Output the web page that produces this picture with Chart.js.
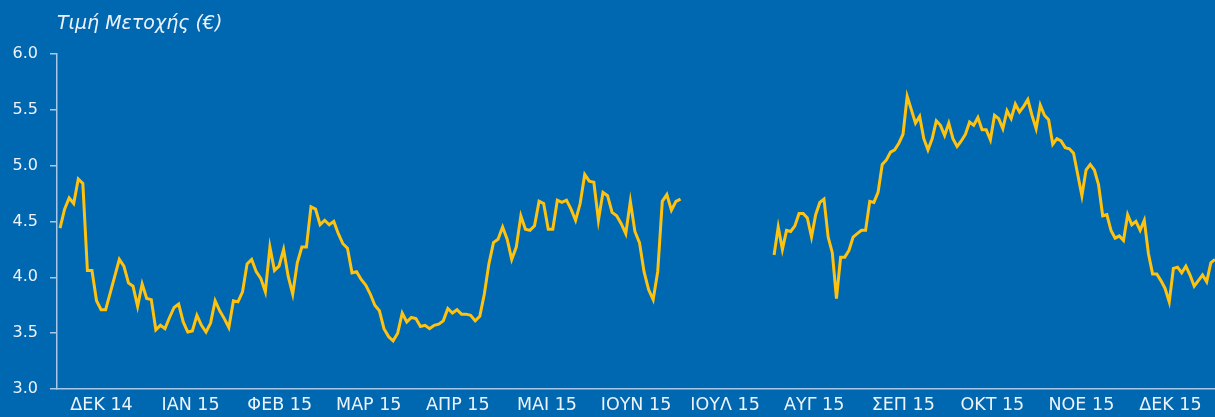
<!DOCTYPE html>
<html lang="el">
<head>
<meta charset="utf-8">
<title>Τιμή Μετοχής</title>
<script src="https://cdn.jsdelivr.net/npm/chart.js@4/dist/chart.umd.min.js"></script>
<style>
    html, body { margin: 0; padding: 0; background: #0067B1; }
    canvas { display: block; }
</style>
</head>
<body>
<canvas id="priceChart" width="1215" height="417"></canvas>
<script>
// month labels of the x axis
const months = ['ΔΕΚ 14', 'ΙΑΝ 15', 'ΦΕΒ 15', 'ΜΑΡ 15', 'ΑΠΡ 15', 'ΜΑΙ 15', 'ΙΟΥΝ 15',
    'ΙΟΥΛ 15', 'ΑΥΓ 15', 'ΣΕΠ 15', 'ΟΚΤ 15', 'ΝΟΕ 15', 'ΔΕΚ 15'];

// y axis ticks
const priceTicks = [3.0, 3.5, 4.0, 4.5, 5.0, 5.5, 6.0];

// daily closing price, December 2014 - June 2015
const pricesDecJun = [
    4.44, 4.61, 4.71, 4.66, 4.88, 4.84, 4.06, 4.06, 3.79, 3.71,
    3.71, 3.86, 4.01, 4.16, 4.10, 3.95, 3.92, 3.74, 3.94, 3.81,
    3.80, 3.53, 3.57, 3.54, 3.64, 3.73, 3.76, 3.60, 3.51, 3.52,
    3.66, 3.57, 3.51, 3.59, 3.79, 3.70, 3.63, 3.55, 3.79, 3.78,
    3.87, 4.12, 4.16, 4.05, 3.99, 3.87, 4.27, 4.06, 4.10, 4.25,
    4.01, 3.85, 4.13, 4.27, 4.27, 4.63, 4.61, 4.47, 4.51, 4.47,
    4.50, 4.39, 4.30, 4.26, 4.04, 4.05, 3.98, 3.93, 3.85, 3.75,
    3.70, 3.54, 3.47, 3.43, 3.50, 3.68, 3.60, 3.64, 3.63, 3.56,
    3.57, 3.54, 3.57, 3.58, 3.61, 3.72, 3.68, 3.71, 3.67, 3.67,
    3.66, 3.61, 3.65, 3.85, 4.12, 4.31, 4.34, 4.45, 4.34, 4.16,
    4.27, 4.55, 4.43, 4.42, 4.46, 4.68, 4.66, 4.43, 4.43, 4.69,
    4.67, 4.69, 4.61, 4.51, 4.66, 4.92, 4.86, 4.85, 4.51, 4.76,
    4.73, 4.58, 4.55, 4.48, 4.39, 4.68, 4.41, 4.31, 4.05, 3.89,
    3.80, 4.05, 4.68, 4.74, 4.60, 4.68, 4.70
];

// daily closing price, August - December 2015 (market closed in July)
const pricesAugDec = [
    4.20, 4.45, 4.25, 4.42, 4.41, 4.46, 4.57, 4.57, 4.53, 4.36,
    4.56, 4.67, 4.70, 4.36, 4.22, 3.81, 4.18, 4.18, 4.24, 4.36,
    4.39, 4.42, 4.42, 4.68, 4.67, 4.76, 5.01, 5.05, 5.12, 5.14,
    5.20, 5.28, 5.62, 5.50, 5.38, 5.44, 5.24, 5.14, 5.24, 5.40,
    5.36, 5.27, 5.38, 5.24, 5.17, 5.22, 5.28, 5.39, 5.36, 5.43,
    5.32, 5.32, 5.23, 5.45, 5.42, 5.33, 5.49, 5.42, 5.55, 5.48,
    5.53, 5.59, 5.45, 5.33, 5.54, 5.45, 5.41, 5.19, 5.24, 5.22,
    5.16, 5.15, 5.11, 4.92, 4.73, 4.96, 5.01, 4.96, 4.83, 4.55,
    4.56, 4.42, 4.35, 4.37, 4.33, 4.56, 4.47, 4.50, 4.42, 4.51,
    4.21, 4.03, 4.03, 3.97, 3.90, 3.78, 4.08, 4.09, 4.04, 4.10,
    4.02, 3.92, 3.97, 4.02, 3.96, 4.13, 4.16
];

// first and last trading day of each period, in months from the start of ΔΕΚ 14
const periodDecJun = [0.034, 7.0];
const periodAugDec = [8.05, 13.0];

const textColor = '#EEF3FA';
const axisColor = '#A9C8E8';

function toPoints(prices, period) {
    let step = (period[1] - period[0]) / (prices.length - 1);
    return prices.map((p, i) => ({ x: period[0] + i * step, y: p }));
}

// a null point between the two periods breaks the line for July
let points = toPoints(pricesDecJun, periodDecJun)
    .concat([{ x: (periodDecJun[1] + periodAugDec[0]) / 2, y: null }])
    .concat(toPoints(pricesAugDec, periodAugDec));

new Chart(document.getElementById('priceChart'), {
    type: 'line',
    data: {
        datasets: [
            {
                label: 'Τιμή Μετοχής (€)',
                data: points,
                xAxisID: 'x',
                borderColor: '#FFC20E',
                borderWidth: 3,
                pointRadius: 0,
                pointHoverRadius: 0,
                tension: 0,
                spanGaps: false
            }
        ]
    },
    options: {
        responsive: false,
        animation: false,
        layout: {
            padding: { left: 0, right: 0, top: 0, bottom: 0 }
        },
        plugins: {
            legend: { display: false },
            tooltip: { enabled: false },
            title: {
                display: true,
                text: 'Τιμή Μετοχής (€)',
                align: 'start',
                fullSize: false,
                color: textColor,
                font: { family: 'DejaVu Sans', size: 19, style: 'italic', weight: 'normal' },
                padding: { left: 1, top: 13, bottom: 18 }
            }
        },
        scales: {
            x: {
                type: 'linear',
                display: false,
                min: 0,
                max: months.length
            },
            months: {
                type: 'category',
                labels: months,
                position: 'bottom',
                offset: true,
                afterFit: function (scale) {
                    scale.height = 28;
                },
                grid: { display: false, drawTicks: false },
                border: { display: true, color: axisColor, width: 1.5 },
                ticks: {
                    color: textColor,
                    padding: 6,
                    maxRotation: 0,
                    autoSkip: false,
                    font: { family: 'DejaVu Sans', size: 17.5 }
                }
            },
            y: {
                type: 'linear',
                min: priceTicks[0],
                max: priceTicks[priceTicks.length - 1],
                afterBuildTicks: function (axis) {
                    axis.ticks = priceTicks.map(v => ({ value: v }));
                },
                afterFit: function (scale) {
                    scale.width = 57;
                },
                grid: {
                    drawOnChartArea: false,
                    drawTicks: true,
                    tickLength: 7,
                    color: axisColor,
                    lineWidth: 1.5
                },
                border: { display: true, color: axisColor, width: 1.5 },
                ticks: {
                    color: textColor,
                    padding: 12,
                    font: { family: 'DejaVu Sans', size: 16 },
                    callback: function (value) {
                        return Number(value).toFixed(1);
                    }
                }
            }
        }
    }
});
</script>
</body>
</html>
